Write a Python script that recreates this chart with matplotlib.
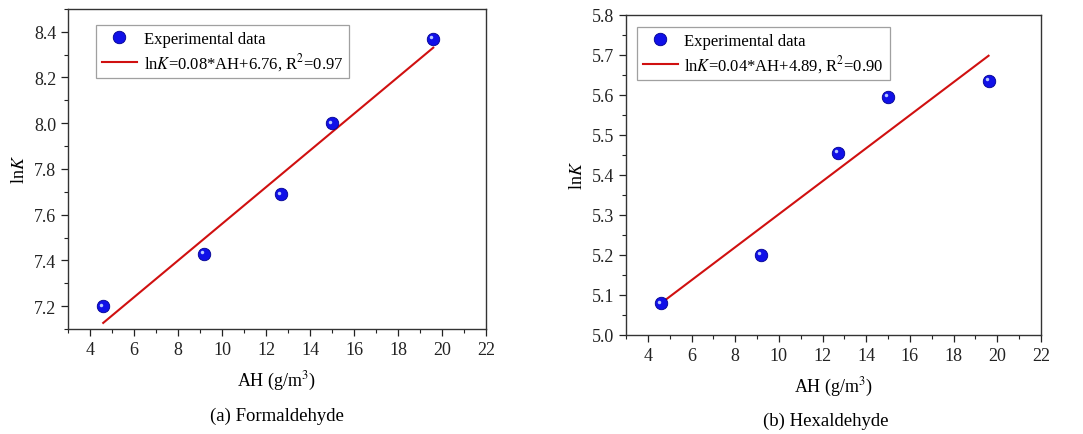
import numpy as np
import matplotlib
matplotlib.use('Agg')
import matplotlib.pyplot as plt
from matplotlib.ticker import MultipleLocator

## data
ah = [4.6, 9.2, 12.7, 15.0, 19.6]
lnk_form = [7.20, 7.43, 7.69, 8.00, 8.37]
lnk_hexa = [5.08, 5.20, 5.455, 5.595, 5.635]
fit_labels = ['ln$K$=0.08*AH+6.76, R$^2$=0.97', 'ln$K$=0.04*AH+4.89, R$^2$=0.90']
captions = ['(a) Formaldehyde', '(b) Hexaldehyde']

plt.rcParams['font.family'] = ['Liberation Serif', 'DejaVu Serif']
plt.rcParams['mathtext.fontset'] = 'stix'

fig = plt.figure(figsize=(10.83, 4.35), dpi=100)
ax1 = fig.add_axes([0.0628, 0.2414, 0.386, 0.736])
ax2 = fig.add_axes([0.578, 0.228, 0.3832, 0.736])

def panel(ax, y, label, ylim, ymaj, legloc):
    x = np.array(ah)
    y = np.array(y)
    k, b = np.polyfit(x, y, 1)
    ax.plot(x, k * x + b, color='#d01010', lw=1.5, label=label, zorder=2)
    ax.plot(x, y, 'o', ms=9, color='#1010e8', mec='#000090', mew=0.6,
            label='Experimental data', zorder=3)
    # highlight on the spheres
    ax.plot(x - 0.09, y + (ylim[1] - ylim[0]) * 0.004, 'o', ms=2.5, color='#b8c8ff',
            mew=0, zorder=4)
    ax.set_xlim(3, 22)
    ax.set_ylim(*ylim)
    ax.xaxis.set_major_locator(MultipleLocator(2))
    ax.xaxis.set_minor_locator(MultipleLocator(1))
    ax.yaxis.set_major_locator(MultipleLocator(ymaj))
    ax.yaxis.set_minor_locator(MultipleLocator(ymaj / 2))
    ax.tick_params(which='major', direction='out', length=5, width=0.9, labelsize=13,
                   top=False, right=False, colors='#222222')
    ax.tick_params(which='minor', direction='out', length=3, width=0.8,
                   top=False, right=False, colors='#222222')
    ax.set_xticks(np.arange(4, 23, 2))
    for s in ax.spines.values():
        s.set_linewidth(1.0)
        s.set_color('#333333')
    ax.set_xlabel('AH (g/m$^3$)', fontsize=13, labelpad=8)
    ax.set_ylabel('ln$K$', fontsize=13, labelpad=4)
    h, l = ax.get_legend_handles_labels()
    leg = ax.legend([h[1], h[0]], [l[1], l[0]], loc='upper left', bbox_to_anchor=legloc,
                    borderaxespad=0, fontsize=12, frameon=True, fancybox=False,
                    edgecolor='#888888', handlelength=2.1, handletextpad=0.4,
                    borderpad=0.35, labelspacing=0.25)
    leg.get_frame().set_linewidth(0.9)

panel(ax1, lnk_form, fit_labels[0], (7.1, 8.5), 0.2, (0.067, 0.95))
panel(ax2, lnk_hexa, fit_labels[1], (5.0, 5.8), 0.1, (0.0265, 0.962))

fig.text(277 / 1083, 1 - 416 / 435, captions[0], ha='center', va='center', fontsize=13.5)
fig.text(826 / 1083, 1 - 421 / 435, captions[1], ha='center', va='center', fontsize=13.5)

fig.savefig('out.png', dpi=100)
